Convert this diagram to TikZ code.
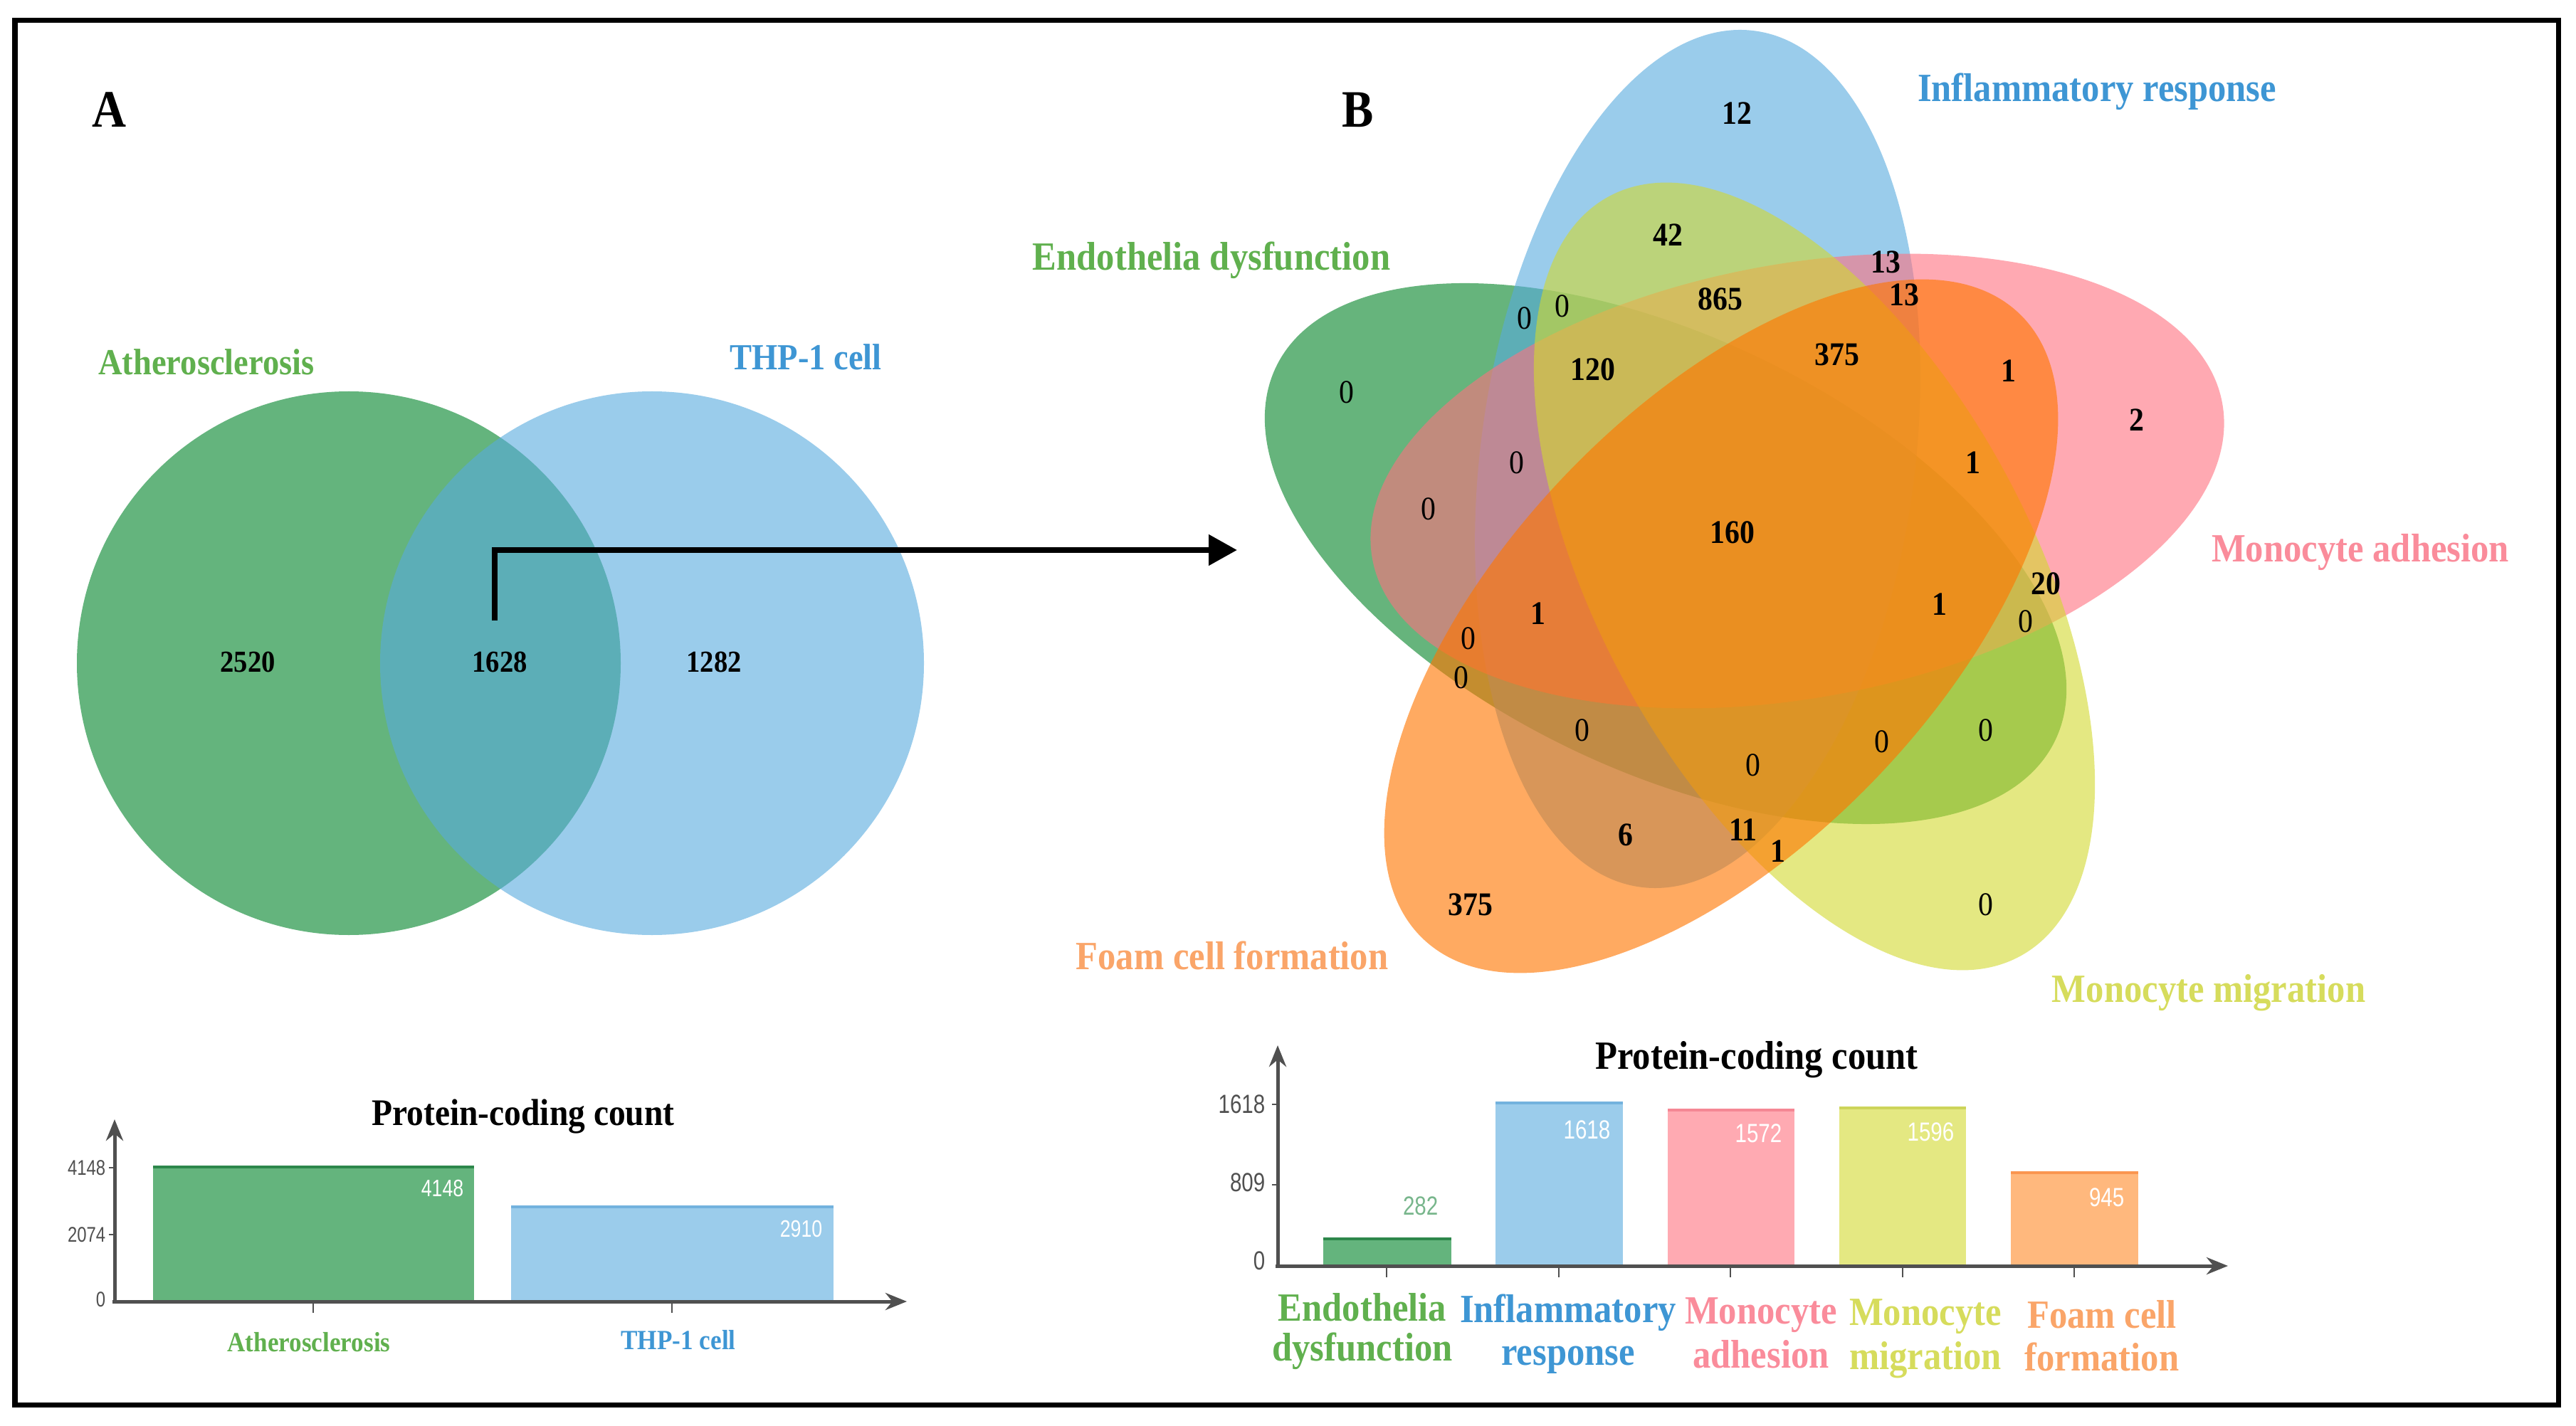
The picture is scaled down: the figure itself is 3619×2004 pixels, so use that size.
\documentclass[tikz,border=0pt]{standalone}
\usepackage{fontspec}
\setmainfont{Liberation Serif}[FakeStretch=0.9]
\newfontfamily\axfont{Liberation Sans}[FakeStretch=0.8]
\usetikzlibrary{arrows.meta}
\newcommand\fsz[1]{\fontsize{#1}{#1}\selectfont}
\definecolor{cG}{RGB}{0,130,38}
\definecolor{cB}{RGB}{88,170,222}
\definecolor{cP}{RGB}{255,113,127}
\definecolor{cY}{RGB}{210,217,47}
\definecolor{cO}{RGB}{255,118,0}
\definecolor{sG}{RGB}{100,180,125}
\definecolor{sB}{RGB}{155,204,235}
\definecolor{sP}{RGB}{255,170,178}
\definecolor{sY}{RGB}{228,232,130}
\definecolor{sO}{RGB}{255,184,125}
\definecolor{dG}{RGB}{45,135,75}
\definecolor{dB}{RGB}{115,178,222}
\definecolor{dP}{RGB}{245,135,148}
\definecolor{dY}{RGB}{205,212,90}
\definecolor{dO}{RGB}{250,150,80}
\definecolor{tG}{RGB}{96,176,78}
\definecolor{tB}{RGB}{62,150,212}
\definecolor{tP}{RGB}{250,140,155}
\definecolor{tY}{RGB}{214,220,92}
\definecolor{tO}{RGB}{250,165,105}
\definecolor{tV}{RGB}{120,182,140}
\definecolor{axc}{RGB}{80,80,80}
\begin{document}
\begin{tikzpicture}[x=0.01cm,y=-0.01cm,
  heading/.style={inner sep=0pt,anchor=base,font=\fsz{21pt}\bfseries},
  labA/.style={inner sep=0pt,anchor=base,font=\fsz{14.7pt}\bfseries},
  labB/.style={inner sep=0pt,anchor=base,font=\fsz{16pt}\bfseries},
  numA/.style={inner sep=0pt,anchor=base,font=\fsz{12.2pt}\bfseries},
  num/.style={inner sep=0pt,font=\fsz{13.2pt}\bfseries},
  zero/.style={inner sep=0pt,font=\fsz{13.2pt}},
  ttl/.style={inner sep=0pt,anchor=base,font=\fsz{16pt}\bfseries},
  tickA/.style={inner sep=0pt,anchor=east,text=axc,font=\axfont\fsz{8.5pt}},
  tickB/.style={inner sep=0pt,anchor=east,text=axc,font=\axfont\fsz{10.5pt}},
  valA/.style={inner sep=0pt,anchor=east,text=white,font=\axfont\fsz{9.5pt}},
  valB/.style={inner sep=0pt,anchor=east,text=white,font=\axfont\fsz{10.5pt}},
  catA/.style={inner sep=0pt,anchor=base,font=\fsz{11.1pt}\bfseries},
  catB/.style={inner sep=0pt,anchor=base,font=\fsz{16pt}\bfseries},
  venn/.style={fill opacity=0.6},
  axisline/.style={draw=axc,line width=0.05cm,-{Stealth[length=0.3cm,width=0.24cm]}},
  ctick/.style={draw=axc,line width=0.02cm},
]
\useasboundingbox (0,0) rectangle (3619,2004);
\fill[white] (0,0) rectangle (3619,2004);
\draw[line width=0.07cm] (21,28.5) rectangle (3594,1974);

% ---------------- Panel A ----------------
\node[heading] (hA) at (153,179) {A};
\fill[sG] (490,932) circle [radius=382];
\fill[cB,venn] (916,932) circle [radius=382];
\node[labA,text=tG] (lAth) at (290,527) {Atherosclerosis};
\node[labA,text=tB] (lTHP) at (1132,520) {THP-1 cell};
\node[numA] (n2520) at (348,944) {2520};
\node[numA] (n1628) at (702,944) {1628};
\node[numA] (n1282) at (1003,944) {1282};

% arrow
\coordinate (arrS) at (695,872);
\coordinate (arrE) at (1738,773);
\draw[line width=0.08cm,-{Triangle[length=0.4cm,width=0.42cm]}] (arrS) |- (arrE);

% bar chart A
\fill[sG] (215,1638) rectangle (666,1829);
\draw[dG,line width=0.045cm] (215,1640) -- (666,1640);
\fill[sB] (718,1694) rectangle (1171,1829);
\draw[dB,line width=0.045cm] (718,1696) -- (1171,1696);
\draw[axisline] (161,1832) -- (161,1573);
\draw[axisline] (158,1829) -- (1274,1829);
\draw[ctick] (153,1641) -- (161,1641);
\draw[ctick] (153,1735) -- (161,1735);
\draw[ctick] (440,1829) -- (440,1845);
\draw[ctick] (944,1829) -- (944,1845);
\node[tickA] (tA1) at (149,1641) {4148};
\node[tickA] (tA2) at (149,1735) {2074};
\node[tickA] (tA3) at (149,1826) {0};
\node[valA] (vA1) at (652,1670) {4148};
\node[valA] (vA2) at (1156,1727) {2910};
\node[ttl,font=\fsz{15pt}\bfseries] (ttlA) at (735,1581) {Protein-coding count};
\node[catA,text=tG] (cA1) at (434,1899) {Atherosclerosis};
\node[catA,text=tB] (cA2) at (953,1896) {THP-1 cell};

% ---------------- Panel B ----------------
\node[heading] (hB) at (1908,179) {B};
\fill[cG,venn,rotate around={154.4:(2340,778)}] (2340,778) ellipse [x radius=607,y radius=305];
\fill[cB,venn,rotate around={82.4:(2385,645)}] (2385,645) ellipse [x radius=607,y radius=305];
\fill[cP,venn,rotate around={10.4:(2525,676)}] (2525,676) ellipse [x radius=607,y radius=305];
\fill[cY,venn,rotate around={118.4:(2549,810)}] (2549,810) ellipse [x radius=607,y radius=305];
\fill[cO,fill opacity=0.62,rotate around={46.4:(2418,880)}] (2418,880) ellipse [x radius=607,y radius=305];

\node[labB,text=tB] (lInf) at (2946,143) {Inflammatory response};
\node[labB,text=tG] (lEnd) at (1702,380) {Endothelia dysfunction};
\node[labB,text=tP] (lAdh) at (3316,790) {Monocyte adhesion};
\node[labB,text=tY] (lMig) at (3103,1408) {Monocyte migration};
\node[labB,text=tO] (lFoam) at (1731,1362) {Foam cell formation};

\node[num] (v01) at (2440,159) {12};
\node[num] (v02) at (2343,330) {42};
\node[num] (v03) at (2649,368) {13};
\node[num] (v04) at (2675,414) {13};
\node[num] (v05) at (2417,420) {865};
\node[zero] (v06) at (2142,447) {0};
\node[zero] (v07) at (2195,430) {0};
\node[num] (v08) at (2238,519) {120};
\node[num] (v09) at (2581,498) {375};
\node[num] (v10) at (2822,521) {1};
\node[num] (v11) at (3002,590) {2};
\node[zero] (v12) at (1892,551) {0};
\node[zero] (v13) at (2131,650) {0};
\node[zero] (v14) at (2007,715) {0};
\node[num] (v15) at (2772,650) {1};
\node[num] (v16) at (2434,748) {160};
\node[num] (v17) at (2874,820) {20};
\node[num] (v18) at (2725,849) {1};
\node[num] (v19) at (2161,862) {1};
\node[zero] (v20) at (2063,897) {0};
\node[zero] (v21) at (2846,873) {0};
\node[zero] (v22) at (2053,952) {0};
\node[zero] (v23) at (2223,1026) {0};
\node[zero] (v24) at (2463,1075) {0};
\node[zero] (v25) at (2644,1042) {0};
\node[zero] (v26) at (2790,1026) {0};
\node[num] (v27) at (2284,1173) {6};
\node[num] (v28) at (2449,1166) {11};
\node[num] (v29) at (2498,1196) {1};
\node[num] (v30) at (2066,1271) {375};
\node[zero] (v31) at (2790,1271) {0};

% bar chart B
\fill[sG] (1859,1739) rectangle (2039,1779);
\draw[dG,line width=0.045cm] (1859,1741) -- (2039,1741);
\fill[sB] (2101,1548) rectangle (2280,1779);
\draw[dB,line width=0.045cm] (2101,1550) -- (2280,1550);
\fill[sP] (2343,1558) rectangle (2521,1779);
\draw[dP,line width=0.045cm] (2343,1560) -- (2521,1560);
\fill[sY] (2584,1555) rectangle (2762,1779);
\draw[dY,line width=0.045cm] (2584,1557) -- (2762,1557);
\fill[sO] (2825,1646) rectangle (3004,1779);
\draw[dO,line width=0.045cm] (2825,1648) -- (3004,1648);
\draw[axisline] (1795,1782) -- (1795,1469);
\draw[axisline] (1792,1779) -- (3130,1779);
\draw[ctick] (1787,1552) -- (1795,1552);
\draw[ctick] (1787,1665) -- (1795,1665);
\foreach \cx in {1948,2190,2431,2673,2914} \draw[ctick] (\cx,1779) -- (\cx,1795);
\node[tickB] (tB1) at (1778,1552) {1618};
\node[tickB] (tB2) at (1778,1662) {809};
\node[tickB] (tB3) at (1778,1772) {0};
\node[valB,text=tV] (vB1) at (2021,1695) {282};
\node[valB] (vB2) at (2263,1588) {1618};
\node[valB] (vB3) at (2504,1593) {1572};
\node[valB] (vB4) at (2746,1591) {1596};
\node[valB] (vB5) at (2985,1683) {945};
\node[ttl] (ttlB) at (2468,1502) {Protein-coding count};
\node[catB,text=tG] (cB1a) at (1914,1856) {Endothelia};
\node[catB,text=tG] (cB1b) at (1914,1912) {dysfunction};
\node[catB,text=tB] (cB2a) at (2203,1858) {Inflammatory};
\node[catB,text=tB] (cB2b) at (2203,1918) {response};
\node[catB,text=tP] (cB3a) at (2474,1860) {Monocyte};
\node[catB,text=tP] (cB3b) at (2474,1922) {adhesion};
\node[catB,text=tY] (cB4a) at (2705,1862) {Monocyte};
\node[catB,text=tY] (cB4b) at (2705,1924) {migration};
\node[catB,text=tO] (cB5a) at (2953,1866) {Foam cell};
\node[catB,text=tO] (cB5b) at (2953,1926) {formation};
\end{tikzpicture}
\end{document}
